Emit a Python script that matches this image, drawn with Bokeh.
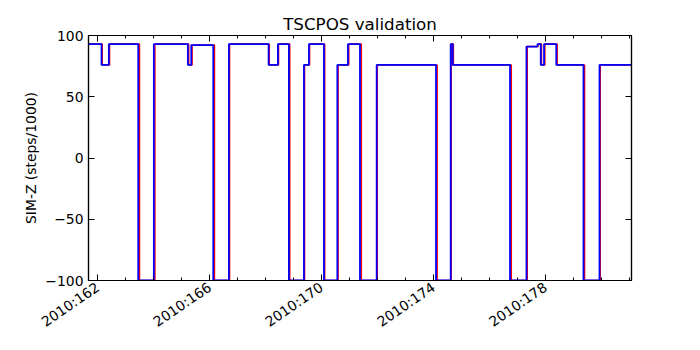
import math
from bokeh.plotting import figure
from bokeh.models import Range1d, FixedTicker, LinearAxis
from bokeh.embed import file_html
from bokeh.resources import INLINE

# ---- data (day of year 2010, SIM-Z steps/1000) ----
blue_t = [161.667, 162.132, 162.393, 163.445, 164.003, 165.219, 165.340, 166.127, 166.685,
          168.105, 168.438, 168.831, 169.368, 169.547, 170.083, 170.562, 170.941, 171.371,
          171.968, 174.089, 174.614, 174.686, 176.735, 177.322, 177.715, 177.833, 177.951,
          178.388, 179.360, 179.933, 181.077]
blue_v = [93, 76, 93, -100, 93, 76, 92.2, -100, 93,
          76, 93, -100, 76, 93, -100, 76, 93, -100,
          76, -100, 93, 76, -100, 91, 93, 76, 93,
          76, -100, 76, 76]
red_t = [161.667, 162.16, 162.42, 163.49, 164.04, 165.25, 165.37, 166.17, 166.71,
         168.13, 168.46, 168.86, 169.39, 169.57, 170.11, 170.59, 170.97, 171.42,
         171.99, 174.13, 174.63, 174.71, 176.78, 177.35, 177.74, 177.86, 177.98,
         178.42, 179.40, 179.96, 181.077]
red_v = [93, 76, 93, -100, 93, 76, 92.2, -100, 93,
         76, 93, -100, 76, 93, -100, 76, 93, -100,
         76, -100, 93, 76, -100, 91, 93, 76, 93,
         76, -100, 76, 76]

x_major = [162, 166, 170, 174, 178]
x_minor = list(range(161, 183))
x_tick_labels = ["2010:162", "2010:166", "2010:170", "2010:174", "2010:178"]
y_ticks = [-100, -50, 0, 50, 100]

FONT = "DejaVu Sans"

p = figure(width=684, height=342, output_backend="svg", toolbar_location=None,
           x_range=Range1d(161.667, 181.077), y_range=Range1d(-100, 100),
           title="TSCPOS validation",
           min_border_left=88, min_border_right=53, min_border_top=35, min_border_bottom=62)

p.xaxis.visible = False
p.yaxis.visible = False
p.grid.visible = False
p.outline_line_color = "black"
p.outline_line_width = 1.2
p.background_fill_color = "white"
p.border_fill_color = "white"

p.title.text_font = FONT
p.title.text_font_size = "16.7px"
p.title.text_font_style = "normal"
p.title.text_color = "black"
p.title.align = "center"
p.title.standoff = 3
p.title.offset = 0

xt = FixedTicker(ticks=x_major, minor_ticks=x_minor)
yt = FixedTicker(ticks=y_ticks, minor_ticks=[])


def style(ax, labels=True):
    ax.axis_line_color = "black"
    ax.axis_line_width = 1.2
    ax.major_tick_in = 6
    ax.major_tick_out = 0
    ax.minor_tick_in = 3
    ax.minor_tick_out = 0
    ax.major_tick_line_color = "black"
    ax.minor_tick_line_color = "black"
    ax.major_label_text_font = FONT
    ax.major_label_text_font_size = "13.9px" if labels else "0px"
    ax.major_label_text_color = "black"
    ax.axis_label_text_font = FONT
    ax.axis_label_text_font_size = "13.9px"
    ax.axis_label_text_font_style = "normal"
    ax.axis_label_text_color = "black"
    if not labels:
        ax.major_label_standoff = 0


xb = LinearAxis(ticker=xt, major_label_overrides={t: s for t, s in zip(x_major, x_tick_labels)})
style(xb)
xb.major_label_orientation = 0.6
xb.major_label_standoff = 5
p.add_layout(xb, "below")

xa = LinearAxis(ticker=xt, major_label_overrides={t: "" for t in x_major})
style(xa, labels=False)
p.add_layout(xa, "above")

yl = LinearAxis(ticker=yt, axis_label="SIM-Z (steps/1000)")
style(yl)
yl.major_label_standoff = 5
yl.axis_label_standoff = 3
p.add_layout(yl, "left")

yr = LinearAxis(ticker=yt, major_label_overrides={t: "" for t in y_ticks})
style(yr, labels=False)
p.add_layout(yr, "right")

p.step(x=red_t, y=red_v, mode="after", line_color="red", line_width=1.5)
p.step(x=blue_t, y=blue_v, mode="after", line_color="blue", line_width=1.8)

open("out.html", "w").write(file_html(p, INLINE))
